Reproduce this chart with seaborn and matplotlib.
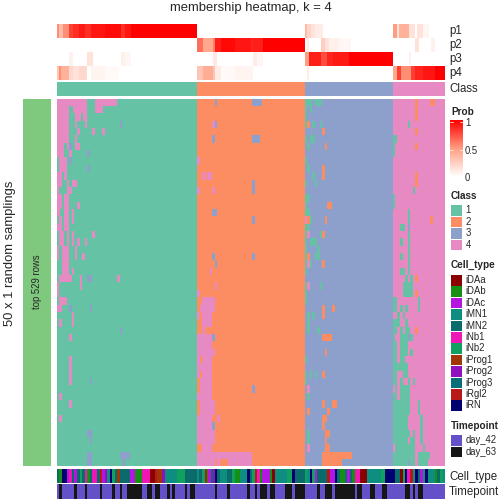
import numpy as np
import matplotlib
matplotlib.use("Agg")
import matplotlib.pyplot as plt
from matplotlib.colors import LinearSegmentedColormap, ListedColormap
from matplotlib.patches import Rectangle
import seaborn as sns

sns.set_style("white")
plt.rcParams['font.family'] = ['Liberation Sans', 'DejaVu Sans']

# samples per class (in sample columns), rows
class_names = ["1", "2", "3", "4"]
class_sizes = [70, 54, 44, 26]
n_rows = 367

# membership probabilities as (value, number of samples)
p1_runs = [(.55,1),(.35,2),(.55,3),(.8,2),(.85,3),(.92,3),(.85,3),(.93,7),(.96,8),(.85,2),(.93,3),(1,33),
           (0,54),
           (.35,1),(.22,2),(.15,2),(.1,4),(0,35),
           (.5,2),(.15,1),(.4,5),(.15,3),(0,1),(.15,3),(.05,3),(0,8)]
p2_runs = [(0,70),
           (.65,3),(.45,5),(.6,1),(.9,3),(.97,7),(.93,8),(.88,1),(.9,5),(1,21),
           (0,1),(.1,1),(0,6),(.25,2),(.15,2),(.08,5),(.04,6),(0,21),
           (0,11),(.15,2),(0,6),(.07,2),(0,5)]
p3_runs = [(0,6),(.07,2),(0,7),(.15,3),(0,14),(.08,2),(.04,3),(0,33),
           (0,8),(.12,2),(0,18),(.1,2),(.05,3),(0,21),
           (.5,2),(.9,6),(.75,3),(.88,3),(.92,8),(1,22),
           (0,8),(.07,1),(0,17)]
p4_runs = [(.3,1),(.55,1),(.4,4),(.2,2),(.15,3),(.2,4),(0,2),(.06,7),(.03,7),(0,39),
           (.3,3),(.42,5),(.3,1),(.1,3),(.03,7),(.06,8),(.05,1),(0,26),
           (0,1),(.1,1),(0,42),
           (.45,2),(.8,2),(.55,5),(.8,2),(.88,4),(.93,6),(1,5)]

# consensus class changes: (row start, row end, class, [(col start, col end), ...])
flips_class1 = [
    (0,7,4,[(0,15),(19,30)]), (7,14,4,[(0,6),(8,15),(19,23)]), (14,22,4,[(0,6),(9,12),(13,15)]),
    (22,29,4,[(0,6),(9,10),(14,15)]), (22,29,3,[(31.5,32.5)]), (29,36,4,[(0,6),(10,11.5),(17.5,19),(22.5,24)]),
    (36,44,4,[(0,6),(9,10)]), (44,51,4,[(0,3.5),(5,6),(9,11.5)]), (44,51,3,[(6,7.5)]),
    (51,58,4,[(0,3.5),(6,7.5)]), (51,58,3,[(15,16.5)]), (58,66,4,[(1,5)]), (58,66,3,[(6,7.5)]),
    (66,73,4,[(1,5)]), (66,73,3,[(15,16.5)]), (73,81,4,[(0,2.5),(3.5,5)]),
    (81,88,4,[(0,2.5),(5,6),(7.5,10)]), (88,95,4,[(0,1),(5,7.5)]), (95,103,4,[(0,2.5),(3.5,6)]),
    (103,110,4,[(0,2.5),(3.5,6),(10,11.5)]), (110,117,4,[(0,1.5),(3.5,6),(7.5,8.5)]),
    (117,125,4,[(1,2.5),(3.5,6),(7.5,8.5)]), (125,132,4,[(0,2.5),(3.5,6)]),
    (132,139,4,[(1,3.5),(5,6),(7.5,8.5),(17.5,19)]), (139,147,4,[(1,3.5),(5,6),(7.5,8.5),(10,11.5),(14,15)]),
    (147,154,4,[(0,1),(2.5,6),(9,10)]), (154,161,4,[(0,1),(2.5,6),(9,10),(12.5,14)]),
    (161,169,4,[(2.5,6)]), (169,176,4,[(2.5,6),(7.5,8.5)]),
    (176,183,4,[(1,7.5),(11.5,12.5),(30,31.5)]), (176,183,3,[(15,17.5)]),
    (183,191,4,[(0,1),(11.5,12.5)]), (191,198,4,[(0,1)]), (198,206,4,[(1,5)]),
    (206,213,4,[(0,2.5)]), (206,213,3,[(6,7.5),(16.5,17.5)]), (213,220,4,[(7.5,8.5)]),
    (220,228,4,[(1,2.5),(7.5,8.5)]), (228,235,3,[(31.5,32.5)]), (235,242,4,[(6,7.5)]),
    (257,286,4,[(6,7.5)]), (279,286,3,[(16.5,17.5)]), (294,301,4,[(1,2.5)]), (301,309,4,[(6,7.5)]),
    (316,323,4,[(1,2.5)]), (331,338,3,[(15,17.5)]), (338,345,3,[(16.5,17.5)]),
    (353,360,3,[(15,17.5),(31.5,36.5)]), (360,367,3,[(15,17.5),(32.5,34)]),
]
flips_class2 = [
    (0,7,3,[(79,80),(97.5,102.5)]), (22,29,4,[(77.5,79)]), (22,29,3,[(79,80)]),
    (36,44,3,[(77.5,79),(97.5,101.5)]), (58,66,4,[(70,71.5)]), (73,81,4,[(72.5,74),(75,77.5)]),
    (81,88,3,[(97.5,99)]), (88,95,4,[(70,71.5),(77.5,79)]), (88,95,3,[(97.5,99)]),
    (110,117,3,[(77.5,80)]), (117,125,3,[(97.5,99)]), (154,161,3,[(77.5,79),(97.5,99)]),
    (161,169,3,[(79,80)]), (169,176,4,[(76.5,77.5)]), (183,191,4,[(79,80)]), (191,198,4,[(70,71.5)]),
    (198,206,4,[(72.5,79)]), (206,213,4,[(71.5,79)]), (213,228,4,[(72.5,77.5)]), (213,220,4,[(70,71.5)]),
    (228,235,4,[(72.5,74)]), (235,250,4,[(70,77.5)]), (235,242,3,[(77.5,79)]), (250,257,4,[(70,79)]),
    (257,264,4,[(70,71.5),(72.5,77.5)]), (264,272,4,[(70,77.5)]), (272,279,4,[(70,71.5),(72.5,77.5)]),
    (279,294,4,[(71.5,77.5)]), (286,294,3,[(97.5,99)]), (294,301,4,[(70,77.5)]), (301,316,4,[(71.5,79)]),
    (316,323,4,[(70,77.5),(80,81.5)]), (323,331,4,[(70,77.5)]), (323,331,3,[(77.5,79)]),
    (331,345,4,[(70,79)]), (345,353,4,[(72.5,77.5)]), (353,360,4,[(70,97.5)]),
    (360,367,4,[(70,79),(80,81.5),(85.5,97.5)]),
]
flips_class3 = [
    (0,7,1,[(124,127.5),(129,132.5)]), (7,14,1,[(124,125),(126.5,127.5)]), (14,22,1,[(124,125)]),
    (22,29,1,[(124,125),(127.5,129),(131.5,132.5)]), (22,29,2,[(125,126.5)]), (29,36,2,[(132.5,134)]),
    (36,44,1,[(124,125),(126.5,129)]), (44,51,1,[(125,126.5)]), (44,51,2,[(134,135)]), (58,66,1,[(124,125)]),
    (66,73,1,[(125,126.5)]), (66,81,2,[(132.5,134)]), (73,81,1,[(127.5,129)]), (81,88,1,[(124,125),(129,130)]),
    (95,103,1,[(124,126.5)]), (103,110,1,[(124,125)]), (103,110,2,[(135,137.5)]), (110,117,1,[(124,126.5)]),
    (117,125,4,[(124,125)]), (117,125,2,[(125,126.5),(134,135)]), (117,125,1,[(126.5,127.5)]),
    (125,132,1,[(124,126.5)]), (132,139,1,[(124,125),(131.5,132.5)]), (132,139,4,[(125,126.5)]), (132,139,2,[(132.5,134)]),
    (139,147,1,[(124,125),(126.5,130)]), (147,154,1,[(124,125),(130,131.5)]),
    (154,161,1,[(124,125),(129,131.5)]), (154,161,2,[(125,126.5)]),
    (161,169,1,[(124,125),(126.5,127.5)]), (161,169,4,[(125,126.5)]), (161,169,2,[(132.5,134)]),
    (169,176,1,[(124,125)]), (183,191,1,[(124,125),(131.5,132.5)]), (183,191,4,[(125,126.5)]),
    (191,206,1,[(124,125)]), (206,220,2,[(132.5,134)]), (206,213,2,[(137.5,139)]),
    (213,235,1,[(125,126.5)]), (213,220,1,[(127.5,129)]), (228,235,1,[(130,131.5)]),
    (235,242,2,[(132.5,137.5)]), (250,257,2,[(134,135)]), (257,264,1,[(124,125)]),
    (272,279,1,[(124,125),(126.5,127.5),(129,130)]), (272,279,2,[(132.5,134)]), (279,286,1,[(124,125)]),
    (286,294,4,[(125,126.5)]), (294,301,1,[(125,126.5)]), (301,309,2,[(132.5,134),(137.5,140)]),
    (309,316,2,[(125,126.5),(135,136.5)]), (316,323,2,[(132.5,135)]), (323,331,2,[(132.5,134)]),
    (331,338,2,[(134,136.5)]), (331,345,1,[(125,126.5)]), (338,345,2,[(134,135)]),
    (345,353,4,[(125,126.5)]), (345,353,2,[(134,136.5)]), (353,360,2,[(132.5,147.5)]), (360,367,2,[(132.5,142.5)]),
]
flips_class4 = [
    (0,22,2,[(179,180.5)]), (0,7,2,[(186.5,189)]), (22,29,1,[(175.5,176.5)]), (29,36,2,[(179,180.5)]),
    (36,44,1,[(168,170)]), (44,58,1,[(168,169)]), (44,51,2,[(179,180.5)]), (73,88,2,[(179,180.5)]),
    (88,95,1,[(178,179)]), (95,110,1,[(168,169)]), (110,176,1,[(175.5,176.5)]), (117,125,2,[(186.5,188)]),
    (125,132,1,[(171.5,174)]), (125,132,3,[(175.5,176.5)]), (139,147,1,[(171.5,173)]), (154,161,1,[(171.5,173)]),
    (169,176,1,[(171.5,174)]), (176,183,1,[(174,175.5),(176.5,178)]), (176,183,2,[(179,180.5)]),
    (183,198,1,[(173,178)]), (191,198,2,[(179,180.5)]), (198,206,1,[(168,170),(180.5,181.5)]),
    (206,213,1,[(168,170),(171.5,173),(174,175.5),(180.5,181.5)]), (213,220,1,[(170,171.5),(173,174)]),
    (220,228,1,[(168,171.5),(174,175.5)]), (228,235,1,[(168,170),(171.5,173),(174,176.5)]), (228,235,2,[(179,180.5)]),
    (235,242,1,[(168,169),(171.5,175.5),(176.5,178)]), (235,242,3,[(175.5,176.5)]), (242,250,1,[(168,170),(171.5,175.5)]),
    (250,257,1,[(168,170),(171.5,175.5),(176.5,178)]), (257,264,1,[(168,170),(171.5,174)]),
    (264,272,1,[(168,175.5)]), (272,279,1,[(168,170),(173,175.5)]),
    (279,286,1,[(168,170),(171.5,173),(175.5,176.5),(178,179)]), (286,294,1,[(169,170),(171.5,176.5)]),
    (294,301,1,[(168,170),(171.5,176.5)]), (301,316,1,[(168,176.5),(180.5,181.5)]),
    (316,331,1,[(168,175.5),(181.5,183)]), (331,338,1,[(168,176.5),(178,179),(181.5,183)]),
    (338,345,1,[(168,175.5),(176.5,179),(181.5,183)]), (345,353,1,[(169,179),(183,184)]),
    (353,360,1,[(168,179),(180.5,186.5)]), (360,367,1,[(168,175.5),(176.5,179),(180.5,185.5)]), (360,367,3,[(175.5,176.5)]),
]

# annotation legends
cell_types = ["iDAa", "iDAb", "iDAc", "iMN1", "iMN2", "iNb1", "iNb2", "iProg1", "iProg2", "iProg3", "iRgl2", "iRN"]
cell_colors = ["#8B0000", "#159015", "#B515E0", "#0E8E80", "#0B6B6B", "#F015B5", "#10A060",
               "#A03505", "#9010C0", "#086E78", "#B81818", "#000070"]
timepoints = ["day_42", "day_63"]
time_colors = ["#6450C8", "#161616"]

# cell type strip as (type, width in half samples)
cell_runs = [("iMN2",2),("iDAb",3),("iRN",5),("iDAc",2),("iNb1",3),("iMN2",2),("iDAc",3),("iMN2",3),("iNb2",2),
             ("iMN2",3),("iNb1",2),("iDAb",3),("iMN2",2),("iNb1",5),("iMN2",3),("iRgl2",2),("iDAc",3),("iProg2",2),
             ("iMN1",3),("iRN",2),("iNb2",3),("iMN2",2),("iProg1",3),("iMN2",10),("iDAc",5),("iDAb",7),("iNb1",8),
             ("iDAa",5),("iRgl2",2),("iProg1",5),("iProg2",3),("iMN1",12),("iNb2",8),("iMN2",12),("iMN1",2),("iMN2",3),
             ("iNb2",3),("iRgl2",2),("iDAb",1),("iDAc",3),("iMN2",2),("iProg2",2),("iRN",2),("iMN2",3),("iMN1",7),
             ("iMN2",5),("iNb2",3),("iDAb",5),("iMN1",7),("iRN",3),
             ("iMN2",2),("iNb2",3),("iRgl2",2),("iNb1",3),("iDAb",2),("iDAc",8),("iDAb",2),("iDAa",3),("iMN1",12),
             ("iNb2",5),("iRN",3),("iMN2",10),("iNb2",2),("iMN1",3),("iRN",2),("iNb2",3),("iDAc",2),("iMN2",10),
             ("iRgl2",3),("iDAc",5),("iRN",2),("iMN2",3),("iDAb",5),("iProg3",2),("iDAc",3),("iMN2",2),("iDAb",3),
             ("iNb1",5),("iDAa",7),("iMN1",14),("iNb2",4),("iRN",10),("iMN2",5),("iDAa",3),("iNb2",2),("iRN",2),
             ("iNb1",3),("iRgl2",3),("iMN1",2),("iRN",3),("iMN2",2),("iDAc",3),("iMN1",2),("iRN",3),("iMN1",7),
             ("iDAb",2),("iMN2",3),("iNb2",3),("iMN1",2)]

# day_63 stretches of the timepoint strip (half sample units)
day63_spans = [(2,5),(17,20),(28,30),(43,45),(55,58),(63,65),(70,85),(90,95),(98,103),(110,113),(115,118),
               (128,130),(133,138),(158,160),(170,173),(190,193),
               (198,200),(203,210),(213,218),(228,235),(238,248),(260,263),(268,275),(278,298),(300,305),
               (313,318),(325,330),(348,353),(356,358),(361,366)]


def expand(runs):
    return np.repeat([v for v, n in runs], [n * 2 for v, n in runs])


def box(x0, y0, x1, y1):
    # pixel box to figure fraction
    return [x0 / 504, 1 - y1 / 504, (x1 - x0) / 504, (y1 - y0) / 504]


def strip(fig, pos, values, **kw):
    ax = fig.add_axes(box(*pos))
    sns.heatmap(np.atleast_2d(values), ax=ax, cbar=False, xticklabels=False, yticklabels=False, **kw)
    return ax


# build the matrices
base = np.repeat([1, 2, 3, 4], [n * 2 for n in class_sizes])
mat = np.tile(base, (n_rows, 1))
for r0, r1, k, spans in flips_class1 + flips_class2 + flips_class3 + flips_class4:
    for c0, c1 in spans:
        mat[r0:r1, int(c0 * 2):int(c1 * 2)] = k

prob = np.vstack([expand(p1_runs), expand(p2_runs), expand(p3_runs), expand(p4_runs)])

cell_idx = np.repeat([cell_types.index(t) for t, n in cell_runs], [n for t, n in cell_runs])
cell_idx = np.resize(cell_idx, 388)
time_idx = np.zeros(388, dtype=int)
for a, b in day63_spans:
    time_idx[a:b] = 1

class_cmap = ListedColormap(sns.color_palette("Set2", 4).as_hex())
prob_cmap = LinearSegmentedColormap.from_list("prob", ["#FFFFFF", "#FF9E81", "#FF0000"])

fig = plt.figure(figsize=(7, 7), dpi=72)

strip(fig, (57, 24, 445, 80), prob, cmap=prob_cmap, vmin=0, vmax=1)
strip(fig, (57, 82, 445, 96), base, cmap=class_cmap, vmin=0.5, vmax=4.5)
strip(fig, (57, 99, 445, 466), mat, cmap=class_cmap, vmin=0.5, vmax=4.5)
strip(fig, (57, 469, 445, 483), cell_idx, cmap=ListedColormap(cell_colors), vmin=-0.5, vmax=11.5)
strip(fig, (57, 484, 445, 499), time_idx, cmap=ListedColormap(time_colors), vmin=-0.5, vmax=1.5)

# everything else is placed on a full figure overlay in pixels
over = fig.add_axes([0, 0, 1, 1])
over.set_xlim(0, 504)
over.set_ylim(504, 0)
over.axis("off")
over.patch.set_alpha(0)

over.text(251, 8, "membership heatmap, k = 4", ha="center", va="center", fontsize=13)
over.add_patch(Rectangle((23, 99), 28, 367, color="#7FC97F", lw=0))
over.text(37, 282, "top 529 rows", rotation=90, ha="center", va="center", fontsize=9.5)
over.text(10, 253, "50 x 1 random samplings", rotation=90, ha="center", va="center", fontsize=13)

for i, name in enumerate(["p1", "p2", "p3", "p4"]):
    over.text(449, 31 + 14 * i, name, va="center", fontsize=11.5)
over.text(449, 89, "Class", va="center", fontsize=11.5)
over.text(449, 477, "Cell_type", va="center", fontsize=11.5)
over.text(449, 491.5, "Timepoint", va="center", fontsize=11.5)

# Prob colour bar
over.text(451, 112, "Prob", va="center", fontsize=10, fontweight="bold")
grad = np.linspace(1, 0, 100)[:, None]
over.imshow(grad, extent=(450, 463, 177, 120), cmap=prob_cmap, vmin=0, vmax=1, aspect="auto", zorder=2)
over.set_xlim(0, 504)
over.set_ylim(504, 0)
for y in [122, 150]:
    over.plot([450, 453], [y, y], color="white", lw=0.7, zorder=3)
    over.plot([460, 463], [y, y], color="white", lw=0.7, zorder=3)
for y, lab in zip([123, 151, 178], ["1", "0.5", "0"]):
    over.text(465, y, lab, va="center", fontsize=9.5)


def legend_block(title, title_y, labels, colors, first_y, step):
    over.text(451, title_y, title, va="center", fontsize=10, fontweight="bold")
    for i, (lab, col) in enumerate(zip(labels, colors)):
        y = first_y + step * i
        over.add_patch(Rectangle((451, y - 5), 10.5, 10.5, color=col, lw=0))
        over.text(465.5, y, lab, va="center", fontsize=9.5)


legend_block("Class", 196, class_names, sns.color_palette("Set2", 4), 210, 11.6)
legend_block("Cell_type", 265, cell_types, cell_colors, 280, 11.4)
legend_block("Timepoint", 426, timepoints, time_colors, 440, 11.6)

plt.savefig("out.png", dpi=72)
